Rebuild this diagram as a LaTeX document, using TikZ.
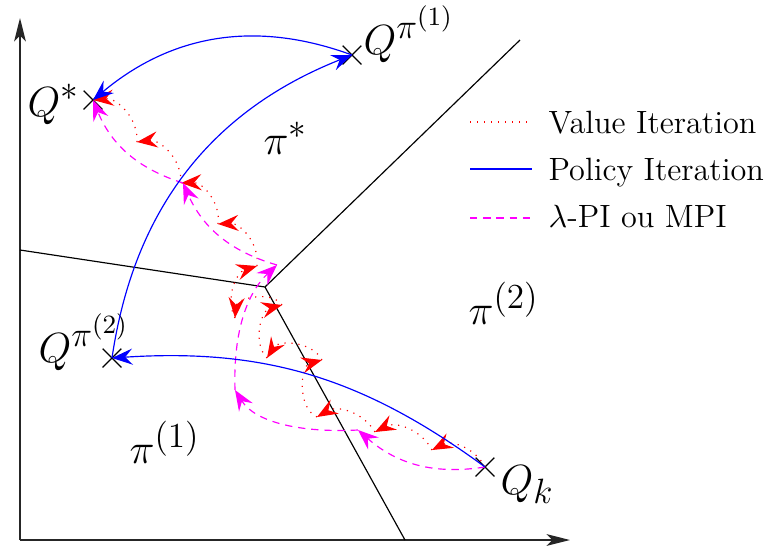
\documentclass[tikz,border=0pt]{standalone}
\usepackage{amsmath,amssymb}
\usetikzlibrary{arrows.meta,positioning,shapes.misc}
\DeclareMathSizes{14.4}{14.4}{12}{9}
\definecolor{lpicol}{RGB}{255,0,255}
\tikzset{
  crossmark/.style={cross out,draw,thin,minimum size=6pt,inner sep=0pt},
  axis/.style={line width=0.6pt,black!85,-{Stealth[length=8pt,width=4pt,inset=2pt]}},
  vi/.style={red,dotted,->},
  pi/.style={blue,->},
  lpi/.style={lpicol,dash pattern=on 2.5pt off 2pt,->},
  lab/.style={font=\Large,inner sep=0pt,anchor=base west},
  leg/.style={font=\fontsize{11}{13}\selectfont,anchor=base west,inner sep=0pt}
}

\begin{document}
\begin{tikzpicture}[x=0.012cm,y=-0.012cm,>={Stealth[length=7pt,width=5.5pt,inset=2.5pt]}]
  \useasboundingbox (0,0) rectangle (772,550);
  % axes
  \coordinate (O) at (20,540);
  \coordinate (ytop) at (20,18);
  \coordinate (xend) at (570,540);
  \draw[axis] (O) -- (ytop);
  \draw[axis] (O) -- (xend);
  % policy regions
  \coordinate (J) at (265,287);
  \coordinate (Jleft) at (20,250);
  \coordinate (Jup) at (520,40);
  \coordinate (Jdown) at (405,540);
  \draw (Jleft) -- (J) -- (Jup) (J) -- (Jdown);
  \node[lab] at (263,154) {$\pi^*$};
  \node[lab] at (468,324) {$\pi^{(2)}$};
  \node[lab] at (129,463) {$\pi^{(1)}$};
  % value functions
  \node[crossmark] (Qk) at (485,467) {};
  \node[crossmark] (Qstar) at (93,100) {};
  \node[crossmark] (Qone) at (352,55) {};
  \node[crossmark] (Qtwo) at (112,358) {};
  \node[lab] at (500,494) {$Q_k$};
  \node[lab] at (27,116) {$Q^*$};
  \node[lab] at (363,54) {$Q^{\pi^{(1)}}$};
  \node[lab] at (38,362) {$Q^{\pi^{(2)}}$};
  % value iteration
  \coordinate (v1) at (432,450);
  \coordinate (v2) at (375,432);
  \coordinate (v3) at (317,417);
  \coordinate (v4) at (322,360);
  \coordinate (v5) at (267,358);
  \coordinate (v6) at (282,305);
  \coordinate (v7) at (235,318);
  \coordinate (v8) at (257,266);
  \coordinate (v9) at (218,224);
  \coordinate (v10) at (181,183);
  \coordinate (v11) at (137,142);
  \draw[vi] (Qk.center) to[bend right=45] (v1);
  \draw[vi] (v1) to[bend right=45] (v2);
  \draw[vi] (v2) to[bend right=45] (v3);
  \draw[vi] (v3) to[bend left=70] (v4);
  \draw[vi] (v4) to[bend right=60] (v5);
  \draw[vi] (v5) to[bend left=60] (v6);
  \draw[vi] (v6) to[bend right=70] (v7);
  \draw[vi] (v7) to[bend left=50] (v8);
  \draw[vi] (v8) to[bend right=50] (v9);
  \draw[vi] (v9) to[bend right=50] (v10);
  \draw[vi] (v10) to[bend right=50] (v11);
  \draw[vi] (v11) to[bend right=50] (Qstar.center);
  % lambda-PI
  \coordinate (m1) at (358,430);
  \coordinate (m2) at (235,390);
  \coordinate (m3) at (277,265);
  \coordinate (m4) at (183,183);
  \draw[lpi] (Qk.center) to[bend left=25] (m1);
  \draw[lpi] (m1) .. controls (300,433) and (255,422) .. (m2);
  \draw[lpi] (m2) .. controls (233,330) and (248,292) .. (m3);
  \draw[lpi] (m3) to[bend left=25] (m4);
  \draw[lpi] (m4) to[bend left=25] (Qstar.center);
  % policy iteration
  \draw[pi] (Qk.center) to[bend right=20] (Qtwo.center);
  \draw[pi] (Qtwo.center) to[bend left=30] (Qone.center);
  \draw[pi] (Qone.center) to[bend right=30] (Qstar.center);
  % legend
  \node[leg] (legvi) at (548,133) {Value Iteration};
  \node[leg] (legpi) at (548,180) {Policy Iteration};
  \node[leg] (leglpi) at (548,227) {$\lambda$-PI ou MPI};
  \draw[red,dotted] (470,122) -- ++(62,0);
  \draw[blue] (470,169) -- ++(62,0);
  \draw[lpicol,dash pattern=on 2.5pt off 2pt] (470,218) -- ++(62,0);
\end{tikzpicture}
\end{document}
